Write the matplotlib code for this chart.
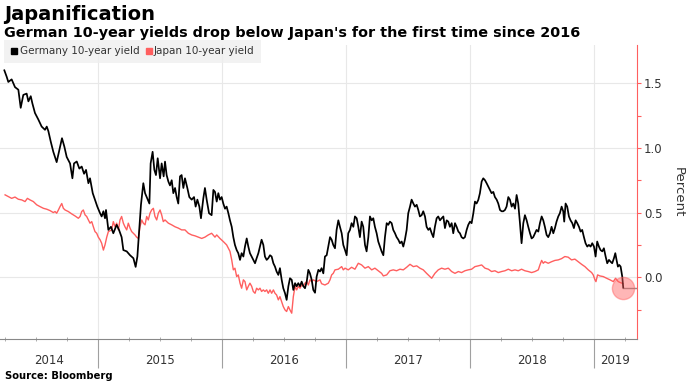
import numpy as np
import matplotlib.pyplot as plt
from matplotlib.lines import Line2D
import matplotlib.transforms as mtransforms

# German 10-year yield (time as decimal year, value in percent)
de_t = [2014.242, 2014.261, 2014.274, 2014.301, 2014.328, 2014.355, 2014.374, 2014.395, 2014.422, 2014.436,
        2014.455, 2014.468, 2014.489, 2014.516, 2014.543, 2014.570, 2014.584, 2014.597, 2014.616, 2014.637,
        2014.664, 2014.686, 2014.707, 2014.726, 2014.745, 2014.772, 2014.791, 2014.804, 2014.826, 2014.847,
        2014.866, 2014.885, 2014.901, 2014.920, 2014.933, 2014.955, 2014.973, 2014.992, 2015.014, 2015.027,
        2015.041, 2015.054, 2015.062, 2015.081, 2015.102, 2015.121, 2015.148, 2015.167, 2015.188, 2015.202,
        2015.229, 2015.256, 2015.283, 2015.301, 2015.315, 2015.328, 2015.344, 2015.363, 2015.377, 2015.390,
        2015.412, 2015.422, 2015.438, 2015.452, 2015.465, 2015.479, 2015.498, 2015.511, 2015.527, 2015.538,
        2015.551, 2015.565, 2015.578, 2015.592, 2015.605, 2015.619, 2015.632, 2015.645, 2015.659, 2015.672,
        2015.686, 2015.699, 2015.718, 2015.734, 2015.753, 2015.772, 2015.785, 2015.799, 2015.815, 2015.828,
        2015.847, 2015.860, 2015.874, 2015.893, 2015.914, 2015.928, 2015.941, 2015.955, 2015.968, 2015.981,
        2015.995, 2016.008, 2016.022, 2016.035, 2016.049, 2016.062, 2016.076, 2016.089, 2016.102, 2016.116,
        2016.129, 2016.143, 2016.156, 2016.170, 2016.183, 2016.197, 2016.210, 2016.223, 2016.237, 2016.250,
        2016.264, 2016.277, 2016.291, 2016.304, 2016.317, 2016.331, 2016.344, 2016.358, 2016.371, 2016.385,
        2016.398, 2016.412, 2016.425, 2016.438, 2016.452, 2016.465, 2016.479, 2016.492, 2016.506, 2016.519,
        2016.533, 2016.546, 2016.560, 2016.573, 2016.587, 2016.600, 2016.613, 2016.627, 2016.640, 2016.654,
        2016.667, 2016.681, 2016.694, 2016.707, 2016.721, 2016.734, 2016.748, 2016.761, 2016.775, 2016.788,
        2016.801, 2016.815, 2016.828, 2016.842, 2016.855, 2016.869, 2016.882, 2016.895, 2016.909, 2016.922,
        2016.936, 2016.949, 2016.963, 2016.976, 2016.990, 2017.003, 2017.016, 2017.030, 2017.043, 2017.057,
        2017.070, 2017.084, 2017.097, 2017.110, 2017.124, 2017.137, 2017.151, 2017.164, 2017.178, 2017.191,
        2017.205, 2017.218, 2017.231, 2017.245, 2017.258, 2017.272, 2017.285, 2017.299, 2017.312, 2017.326,
        2017.339, 2017.352, 2017.366, 2017.379, 2017.393, 2017.406, 2017.420, 2017.433, 2017.447, 2017.460,
        2017.473, 2017.487, 2017.500, 2017.514, 2017.527, 2017.541, 2017.554, 2017.568, 2017.581, 2017.594,
        2017.608, 2017.621, 2017.635, 2017.648, 2017.662, 2017.675, 2017.689, 2017.702, 2017.715, 2017.729,
        2017.742, 2017.756, 2017.769, 2017.783, 2017.796, 2017.810, 2017.823, 2017.836, 2017.850, 2017.863,
        2017.877, 2017.890, 2017.904, 2017.917, 2017.930, 2017.944, 2017.957, 2017.971, 2017.984, 2017.998,
        2018.011, 2018.025, 2018.038, 2018.051, 2018.065, 2018.078, 2018.092, 2018.105, 2018.119, 2018.132,
        2018.146, 2018.159, 2018.172, 2018.186, 2018.199, 2018.213, 2018.226, 2018.240, 2018.253, 2018.266,
        2018.280, 2018.293, 2018.307, 2018.320, 2018.334, 2018.347, 2018.361, 2018.374, 2018.387, 2018.401,
        2018.414, 2018.428, 2018.441, 2018.455, 2018.468, 2018.482, 2018.495, 2018.508, 2018.522, 2018.535,
        2018.549, 2018.562, 2018.576, 2018.589, 2018.602, 2018.616, 2018.629, 2018.643, 2018.656, 2018.670,
        2018.683, 2018.696, 2018.710, 2018.723, 2018.737, 2018.750, 2018.758, 2018.769, 2018.782, 2018.796,
        2018.809, 2018.823, 2018.836, 2018.850, 2018.863, 2018.877, 2018.890, 2018.903, 2018.917, 2018.930,
        2018.944, 2018.957, 2018.971, 2018.984, 2018.998, 2019.011, 2019.024, 2019.038, 2019.051, 2019.065,
        2019.078, 2019.092, 2019.105, 2019.119, 2019.132, 2019.145, 2019.159, 2019.170, 2019.180, 2019.191,
        2019.202, 2019.213, 2019.226, 2019.234]
de_y = [1.60, 1.55, 1.51, 1.53, 1.47, 1.45, 1.31, 1.41, 1.42, 1.36,
        1.40, 1.345, 1.27, 1.22, 1.165, 1.14, 1.165, 1.13, 1.05, 0.97,
        0.89, 0.985, 1.075, 1.01, 0.93, 0.88, 0.765, 0.88, 0.895, 0.84,
        0.856, 0.80, 0.83, 0.727, 0.765, 0.65, 0.60, 0.546, 0.495, 0.47,
        0.51, 0.456, 0.52, 0.366, 0.39, 0.34, 0.405, 0.366, 0.31, 0.21,
        0.20, 0.17, 0.147, 0.08, 0.16, 0.34, 0.56, 0.727, 0.65, 0.62,
        0.57, 0.88, 0.97, 0.83, 0.79, 0.92, 0.765, 0.88, 0.78, 0.894,
        0.79, 0.74, 0.71, 0.75, 0.65, 0.69, 0.62, 0.57, 0.78, 0.79,
        0.69, 0.765, 0.69, 0.62, 0.60, 0.62, 0.546, 0.60, 0.546, 0.456,
        0.61, 0.69, 0.60, 0.495, 0.48, 0.675, 0.66, 0.585, 0.65, 0.60,
        0.62, 0.57, 0.53, 0.546, 0.495, 0.44, 0.39, 0.31, 0.25, 0.21,
        0.186, 0.134, 0.186, 0.16, 0.237, 0.30, 0.237, 0.186, 0.16, 0.134,
        0.108, 0.147, 0.186, 0.237, 0.29, 0.25, 0.16, 0.134, 0.147, 0.17,
        0.16, 0.108, 0.082, 0.044, 0.018, 0.07, -0.02, -0.085, -0.124, -0.175,
        -0.07, -0.008, -0.02, -0.098, -0.046, -0.07, -0.046, -0.07, -0.034, -0.07,
        -0.085, -0.034, 0.057, 0.03, -0.02, -0.098, -0.12, 0.005, 0.057, 0.044,
        0.07, 0.03, 0.16, 0.17, 0.237, 0.31, 0.29, 0.25, 0.224, 0.366,
        0.44, 0.39, 0.34, 0.25, 0.21, 0.17, 0.34, 0.366, 0.418, 0.39,
        0.47, 0.456, 0.39, 0.31, 0.43, 0.39, 0.25, 0.20, 0.31, 0.47,
        0.44, 0.456, 0.39, 0.34, 0.276, 0.237, 0.20, 0.17, 0.31, 0.418,
        0.405, 0.43, 0.418, 0.366, 0.34, 0.31, 0.29, 0.263, 0.276, 0.237,
        0.29, 0.366, 0.495, 0.546, 0.60, 0.57, 0.546, 0.56, 0.52, 0.47,
        0.48, 0.51, 0.47, 0.39, 0.366, 0.38, 0.34, 0.31, 0.39, 0.456,
        0.47, 0.44, 0.456, 0.47, 0.38, 0.44, 0.43, 0.39, 0.418, 0.34,
        0.418, 0.39, 0.353, 0.34, 0.31, 0.30, 0.31, 0.366, 0.405, 0.43,
        0.418, 0.495, 0.585, 0.57, 0.598, 0.65, 0.74, 0.765, 0.75, 0.727,
        0.70, 0.675, 0.65, 0.66, 0.62, 0.60, 0.57, 0.52, 0.51, 0.51,
        0.52, 0.546, 0.62, 0.60, 0.546, 0.57, 0.53, 0.636, 0.57, 0.418,
        0.263, 0.418, 0.48, 0.44, 0.39, 0.34, 0.30, 0.31, 0.34, 0.366,
        0.353, 0.418, 0.47, 0.44, 0.39, 0.327, 0.31, 0.34, 0.39, 0.34,
        0.38, 0.43, 0.47, 0.495, 0.546, 0.51, 0.43, 0.57, 0.546, 0.47,
        0.44, 0.418, 0.38, 0.44, 0.418, 0.39, 0.353, 0.366, 0.31, 0.263,
        0.237, 0.25, 0.237, 0.263, 0.237, 0.16, 0.276, 0.237, 0.21, 0.20,
        0.224, 0.16, 0.108, 0.134, 0.12, 0.108, 0.147, 0.186, 0.134, 0.082,
        0.095, 0.082, 0.005, -0.08]

# Japan 10-year yield
jp_t = [2014.248, 2014.274, 2014.301, 2014.328, 2014.355, 2014.382, 2014.409, 2014.428, 2014.449, 2014.476,
        2014.503, 2014.530, 2014.557, 2014.584, 2014.611, 2014.637, 2014.651, 2014.664, 2014.678, 2014.691,
        2014.705, 2014.718, 2014.732, 2014.758, 2014.785, 2014.812, 2014.839, 2014.853, 2014.866, 2014.879,
        2014.893, 2014.906, 2014.920, 2014.933, 2014.947, 2014.960, 2014.973, 2014.987, 2015.000, 2015.014,
        2015.027, 2015.041, 2015.054, 2015.068, 2015.081, 2015.108, 2015.121, 2015.135, 2015.148, 2015.162,
        2015.175, 2015.188, 2015.202, 2015.215, 2015.229, 2015.242, 2015.256, 2015.269, 2015.283, 2015.296,
        2015.309, 2015.323, 2015.336, 2015.350, 2015.363, 2015.377, 2015.390, 2015.403, 2015.417, 2015.430,
        2015.444, 2015.457, 2015.471, 2015.484, 2015.498, 2015.511, 2015.524, 2015.538, 2015.565, 2015.592,
        2015.619, 2015.645, 2015.672, 2015.699, 2015.726, 2015.753, 2015.780, 2015.807, 2015.834, 2015.860,
        2015.887, 2015.914, 2015.941, 2015.955, 2015.981, 2016.008, 2016.035, 2016.049, 2016.062, 2016.076,
        2016.089, 2016.102, 2016.116, 2016.129, 2016.143, 2016.156, 2016.170, 2016.183, 2016.197, 2016.210,
        2016.223, 2016.237, 2016.250, 2016.264, 2016.277, 2016.291, 2016.304, 2016.317, 2016.331, 2016.344,
        2016.358, 2016.371, 2016.385, 2016.398, 2016.412, 2016.425, 2016.438, 2016.452, 2016.465, 2016.479,
        2016.492, 2016.506, 2016.519, 2016.533, 2016.546, 2016.560, 2016.573, 2016.587, 2016.600, 2016.613,
        2016.627, 2016.640, 2016.654, 2016.667, 2016.681, 2016.694, 2016.707, 2016.721, 2016.734, 2016.761,
        2016.788, 2016.801, 2016.828, 2016.855, 2016.869, 2016.882, 2016.895, 2016.909, 2016.936, 2016.963,
        2016.976, 2016.990, 2017.016, 2017.043, 2017.070, 2017.097, 2017.124, 2017.151, 2017.178, 2017.205,
        2017.231, 2017.258, 2017.285, 2017.299, 2017.326, 2017.352, 2017.379, 2017.406, 2017.433, 2017.460,
        2017.487, 2017.514, 2017.541, 2017.568, 2017.594, 2017.621, 2017.648, 2017.675, 2017.689, 2017.715,
        2017.742, 2017.769, 2017.796, 2017.823, 2017.850, 2017.877, 2017.904, 2017.930, 2017.957, 2017.984,
        2018.011, 2018.038, 2018.065, 2018.092, 2018.119, 2018.146, 2018.172, 2018.199, 2018.226, 2018.253,
        2018.280, 2018.307, 2018.334, 2018.361, 2018.387, 2018.414, 2018.441, 2018.468, 2018.495, 2018.522,
        2018.549, 2018.562, 2018.576, 2018.589, 2018.602, 2018.629, 2018.656, 2018.683, 2018.710, 2018.737,
        2018.763, 2018.790, 2018.817, 2018.844, 2018.871, 2018.898, 2018.925, 2018.952, 2018.979, 2018.992,
        2019.006, 2019.014, 2019.027, 2019.046, 2019.073, 2019.100, 2019.127, 2019.154, 2019.172, 2019.194,
        2019.221, 2019.232]
jp_y = [0.637, 0.624, 0.61, 0.62, 0.603, 0.598, 0.585, 0.61, 0.598, 0.585,
        0.56, 0.546, 0.533, 0.526, 0.515, 0.50, 0.508, 0.495, 0.52, 0.546,
        0.57, 0.533, 0.52, 0.508, 0.49, 0.474, 0.456, 0.47, 0.508, 0.52,
        0.482, 0.47, 0.443, 0.418, 0.43, 0.39, 0.353, 0.34, 0.31, 0.29,
        0.263, 0.21, 0.25, 0.31, 0.353, 0.366, 0.43, 0.39, 0.418, 0.366,
        0.443, 0.47, 0.418, 0.39, 0.366, 0.418, 0.38, 0.353, 0.34, 0.327,
        0.31, 0.30, 0.39, 0.443, 0.418, 0.405, 0.47, 0.443, 0.495, 0.52,
        0.533, 0.47, 0.443, 0.495, 0.52, 0.482, 0.43, 0.443, 0.418, 0.405,
        0.39, 0.38, 0.366, 0.366, 0.34, 0.327, 0.32, 0.31, 0.30, 0.31,
        0.327, 0.34, 0.31, 0.327, 0.30, 0.276, 0.25, 0.224, 0.20, 0.134,
        0.057, 0.07, 0.005, 0.018, -0.046, -0.085, -0.02, -0.034, -0.098, -0.07,
        -0.046, -0.07, -0.11, -0.124, -0.085, -0.098, -0.085, -0.11, -0.098, -0.11,
        -0.098, -0.124, -0.098, -0.124, -0.098, -0.124, -0.137, -0.175, -0.15, -0.19,
        -0.227, -0.253, -0.265, -0.227, -0.253, -0.278, -0.15, -0.07, -0.098, -0.07,
        -0.085, -0.06, -0.07, -0.046, -0.034, -0.06, -0.02, -0.034, -0.02, -0.034,
        -0.02, -0.05, -0.06, -0.046, -0.02, 0.018, 0.03, 0.057, 0.062, 0.082,
        0.057, 0.07, 0.057, 0.077, 0.062, 0.108, 0.095, 0.07, 0.082, 0.057,
        0.07, 0.05, 0.03, 0.01, 0.018, 0.05, 0.057, 0.05, 0.062, 0.057,
        0.077, 0.10, 0.082, 0.088, 0.07, 0.057, 0.03, 0.005, -0.008, 0.03,
        0.057, 0.07, 0.062, 0.07, 0.044, 0.03, 0.044, 0.036, 0.05, 0.057,
        0.062, 0.082, 0.088, 0.095, 0.07, 0.062, 0.044, 0.05, 0.036, 0.044,
        0.05, 0.062, 0.05, 0.057, 0.05, 0.062, 0.05, 0.044, 0.036, 0.044,
        0.057, 0.095, 0.13, 0.108, 0.12, 0.108, 0.12, 0.13, 0.134, 0.144,
        0.16, 0.155, 0.134, 0.14, 0.12, 0.10, 0.082, 0.057, 0.036, 0.018,
        -0.02, -0.034, 0.018, 0.01, 0.005, -0.008, -0.02, -0.034, -0.008, -0.034,
        -0.046, -0.05]

years = ['2014', '2015', '2016', '2017', '2018', '2019']
x_start, x_end = 2014.207, 2019.344
y_min, y_max = -0.477, 1.797
y_major = [0.0, 0.5, 1.0, 1.5]
y_minor = [-0.25, 0.25, 0.75, 1.25]

RED = '#ff5f5f'
GREY = '#8c8c8c'

fig = plt.figure(figsize=(6.9, 3.9), dpi=100)
ax = fig.add_axes([0.0, 0.131, 0.923, 0.754])

ax.plot(jp_t, jp_y, color=RED, lw=1.0, zorder=3)
ax.plot(de_t, de_y, color='black', lw=1.25, zorder=4)
# last value line and highlight circle
ax.plot([de_t[-1], x_end], [de_y[-1], de_y[-1]], color=GREY, lw=1.0, zorder=2)
ax.plot(de_t[-1], de_y[-1], 'o', ms=16, color=RED, alpha=0.45, mec=RED, zorder=5)

ax.set_xlim(x_start, x_end)
ax.set_ylim(y_min, y_max)

# y axis on the right
ax.yaxis.tick_right()
ax.set_yticks(y_major)
ax.set_yticks(y_minor, minor=True)
ax.set_yticklabels(['%.1f' % v for v in y_major], fontsize=8.5, color='#333333')
ax.tick_params(axis='y', which='both', colors=RED, labelcolor='#333333', length=3, width=0.8, pad=2)
ax.yaxis.set_label_position('right')
ax.set_ylabel('Percent', rotation=270, fontsize=9.5, color='#333333', labelpad=16)

# x axis: year separators and quarter ticks
year_bounds = [int(y) for y in years[1:]]
ax.set_xticks(year_bounds)
ax.set_xticks(np.arange(2014.25, x_end, 0.25), minor=True)
ax.set_xticklabels([])
ax.tick_params(axis='x', which='major', length=21, width=0.8, colors='#a0a0a0', direction='out')
ax.tick_params(axis='x', which='minor', length=3, width=0.6, colors='#a0a0a0', direction='inout')

trans = mtransforms.blended_transform_factory(ax.transData, ax.transAxes)
edges = [x_start] + year_bounds + [x_end]
for i, lab in enumerate(years):
    ax.text((edges[i] + edges[i + 1]) / 2, -0.075, lab, transform=trans,
            ha='center', va='center', fontsize=8.5, color='#333333')

ax.grid(True, which='major', color='#e8e8e8', lw=0.8)
ax.set_axisbelow(True)
for s in ['left', 'top']:
    ax.spines[s].set_visible(False)
ax.spines['right'].set_color(RED)
ax.spines['right'].set_linewidth(0.8)
ax.spines['bottom'].set_color('#888888')
ax.spines['bottom'].set_linewidth(0.8)

# legend
handles = [Line2D([], [], marker='s', ls='None', color='black', ms=5),
           Line2D([], [], marker='s', ls='None', color=RED, ms=5)]
leg = fig.legend(handles, ['Germany 10-year yield', 'Japan 10-year yield'], loc='upper left',
                 bbox_to_anchor=(4 / 690, 1 - 40 / 390), ncol=2, fontsize=7.5, frameon=True,
                 fancybox=False, handletextpad=0.1, columnspacing=0.5, borderpad=0.6,
                 borderaxespad=0.0, handlelength=0.8, labelcolor='#333333')
leg.get_frame().set_facecolor('#efefef')
leg.get_frame().set_edgecolor('none')

fig.text(4 / 690, 1 - 14 / 390, 'Japanification', fontsize=14, fontweight='bold', va='center')
fig.text(4 / 690, 1 - 33 / 390, "German 10-year yields drop below Japan's for the first time since 2016",
         fontsize=10.4, fontweight='bold', va='center')
fig.text(5 / 690, 1 - 376 / 390, 'Source: Bloomberg', fontsize=7.2, fontweight='bold', va='center')

fig.savefig('out.png', dpi=100)
